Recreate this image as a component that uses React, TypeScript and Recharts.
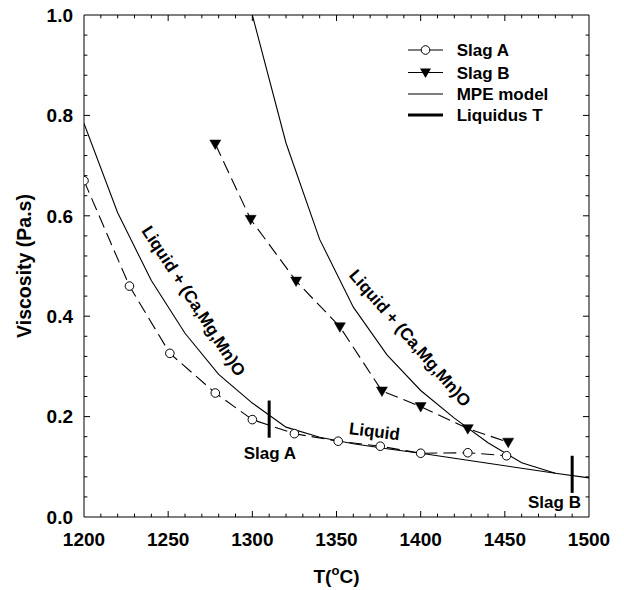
import React from 'react';
import {
  ComposedChart,
  Line,
  XAxis,
  YAxis,
  ReferenceLine,
  ReferenceDot,
  Legend,
} from 'recharts';

const FONT = '"Liberation Sans", Arial, Helvetica, sans-serif';

// ---- data ----
const slagA_T = [1200, 1227, 1251, 1278, 1300, 1325, 1351, 1376, 1400, 1428, 1451];
const slagA_V = [0.670, 0.460, 0.326, 0.247, 0.194, 0.166, 0.151, 0.141, 0.127, 0.128, 0.122];

const slagB_T = [1278, 1299, 1326, 1352, 1377, 1400, 1428, 1452];
const slagB_V = [0.743, 0.593, 0.470, 0.379, 0.251, 0.220, 0.176, 0.149];

const mpeA_T = [1200, 1220, 1240, 1260, 1280, 1300, 1320, 1340, 1360, 1380, 1400, 1420, 1440, 1460, 1480, 1500];
const mpeA_V = [0.784, 0.606, 0.471, 0.366, 0.284, 0.227, 0.179, 0.159, 0.146, 0.136, 0.127, 0.117, 0.107, 0.097, 0.087, 0.078];

const mpeB_T = [1300, 1320, 1340, 1360, 1380, 1400, 1420, 1440, 1460, 1480];
const mpeB_V = [1.0, 0.745, 0.553, 0.418, 0.323, 0.252, 0.197, 0.148, 0.108, 0.087];

const liqA_T = [1310, 1310];
const liqA_V = [0.158, 0.232];
const liqB_T = [1490, 1490];
const liqB_V = [0.048, 0.122];

const xMajorTicks = [1200, 1250, 1300, 1350, 1400, 1450, 1500];
const yMajorTicks = [0, 0.2, 0.4, 0.6, 0.8, 1.0];
const xMinorStep = 10;
const yMinorStep = 0.04;

const annotations = [
  { T: 1310.4, v: 0.127, text: 'Slag A', angle: 0 },
  { T: 1479.5, v: 0.028, text: 'Slag B', angle: 0 },
  { T: 1372.5, v: 0.170, text: 'Liquid', angle: 7 },
  { T: 1265, v: 0.430, text: 'Liquid + (Ca,Mg,Mn)O', angle: 57 },
  { T: 1393.6, v: 0.356, text: 'Liquid + (Ca,Mg,Mn)O', angle: 49 },
];

const toPts = (ts: number[], vs: number[]) => ts.map((T, i) => ({ T, v: vs[i] }));

const slagA = toPts(slagA_T, slagA_V);
const slagB = toPts(slagB_T, slagB_V);
const mpeA = toPts(mpeA_T, mpeA_V);
const mpeB = toPts(mpeB_T, mpeB_V);
const liqA = toPts(liqA_T, liqA_V);
const liqB = toPts(liqB_T, liqB_V);

const X0 = 1200, X1 = 1500, Y0 = 0, Y1 = 1;
// tick lengths in data units (approx 6px / 3.3px)
const xMajLen = 3.6, xMinLen = 2.0;
const yMajLen = 0.012, yMinLen = 0.0066;

const xMinorTicks: number[] = [];
for (let t = X0 + xMinorStep; t < X1; t += xMinorStep) xMinorTicks.push(t);
const yMinorTicks: number[] = [];
for (let k = 1; k * yMinorStep < Y1 - 1e-9; k++) yMinorTicks.push(+(k * yMinorStep).toFixed(4));

const isMajorX = (t: number) => xMajorTicks.includes(t);
const isMajorY = (v: number) => yMajorTicks.some((m) => Math.abs(m - v) < 1e-6);

const CircleDot = (p: any) => {
  if (p.cx == null || p.cy == null) return <g key={p.index} />;
  return <circle key={p.index} cx={p.cx} cy={p.cy} r={4.3} fill="#fff" stroke="#000" strokeWidth={1} />;
};
const TriDot = (p: any) => {
  if (p.cx == null || p.cy == null) return <g key={p.index} />;
  const { cx, cy } = p;
  return (
    <path
      key={p.index}
      d={`M${cx - 5.5},${cy - 4} L${cx + 5.5},${cy - 4} L${cx},${cy + 5.5} Z`}
      fill="#000"
      stroke="#000"
      strokeWidth={0.5}
    />
  );
};

const XTitle = (props: any) => {
  const vb = props.viewBox || {};
  const cx = vb.x + vb.width / 2;
  const y = vb.y + 65.5;
  return (
    <text x={cx} y={y} textAnchor="middle" fontFamily={FONT} fontWeight="bold" fontSize={19} fill="#000">
      T(
      <tspan dy={-7.5} fontSize={13}>o</tspan>
      <tspan dy={7.5}>C)</tspan>
    </text>
  );
};

const YTitle = (props: any) => {
  const vb = props.viewBox || {};
  const x = 31;
  const cy = vb.y + vb.height / 2;
  return (
    <text
      x={x}
      y={cy}
      textAnchor="middle"
      transform={`rotate(-90, ${x}, ${cy})`}
      fontFamily={FONT}
      fontWeight="bold"
      fontSize={19.5}
      fill="#000"
    >
      Viscosity (Pa.s)
    </text>
  );
};

const LegendBox = () => {
  const rowY = [12, 34.5, 56, 77];
  const lx0 = 2, lx1 = 37, tx = 50.7;
  const mid = (lx0 + lx1) / 2;
  const textProps = { fontFamily: FONT, fontWeight: 'bold' as const, fontSize: 17, fill: '#000' };
  return (
    <svg width={170} height={95} style={{ overflow: 'visible', display: 'block' }}>
      <line x1={lx0} y1={rowY[0]} x2={lx1} y2={rowY[0]} stroke="#000" strokeWidth={1.1} />
      <circle cx={mid} cy={rowY[0]} r={4.3} fill="#fff" stroke="#000" strokeWidth={1} />
      <text x={tx} y={rowY[0]} dy="0.36em" {...textProps}>Slag A</text>

      <line x1={lx0} y1={rowY[1]} x2={lx1} y2={rowY[1]} stroke="#000" strokeWidth={1.1} />
      <path d={`M${mid - 5.5},${rowY[1] - 4} L${mid + 5.5},${rowY[1] - 4} L${mid},${rowY[1] + 5.5} Z`} fill="#000" />
      <text x={tx} y={rowY[1]} dy="0.36em" {...textProps}>Slag B</text>

      <line x1={lx0} y1={rowY[2]} x2={lx1} y2={rowY[2]} stroke="#000" strokeWidth={1.1} />
      <text x={tx} y={rowY[2]} dy="0.36em" {...textProps}>MPE model</text>

      <line x1={lx0} y1={rowY[3]} x2={lx1} y2={rowY[3]} stroke="#000" strokeWidth={3} />
      <text x={tx} y={rowY[3]} dy="0.36em" {...textProps}>Liquidus T</text>
    </svg>
  );
};

const makeAnnLabel = (text: string, angle: number) => (p: any) => {
  const vb = p.viewBox || {};
  const cx = vb.x + (vb.width || 0) / 2;
  const cy = vb.y + (vb.height || 0) / 2;
  return (
    <text
      x={cx}
      y={cy}
      textAnchor="middle"
      dominantBaseline="central"
      transform={angle ? `rotate(${angle}, ${cx}, ${cy})` : undefined}
      fontFamily={FONT}
      fontWeight="bold"
      fontSize={17}
      fill="#000"
    >
      {text}
    </text>
  );
};

export default function App() {
  return (
    <div style={{ marginTop: -8, marginLeft: -8, width: 624, height: 590 }}>
      <ComposedChart
        width={624}
        height={590}
        margin={{ top: 15, right: 35, left: 8, bottom: 0 }}
        style={{ fontFamily: FONT }}
      >
        <XAxis
          dataKey="T"
          type="number"
          domain={[X0, X1]}
          ticks={xMajorTicks}
          interval={0}
          allowDataOverflow
          tickLine={false}
          tickSize={0}
          tickMargin={16}
          axisLine={{ stroke: '#000', strokeWidth: 1 }}
          tick={{ fill: '#000', fontSize: 19, fontWeight: 'bold', fontFamily: FONT }}
          height={73}
          label={{ content: XTitle }}
        />
        <YAxis
          type="number"
          domain={[Y0, Y1]}
          ticks={yMajorTicks}
          interval={0}
          allowDataOverflow
          tickFormatter={(v: number) => v.toFixed(1)}
          tickLine={false}
          tickSize={0}
          tickMargin={11}
          axisLine={{ stroke: '#000', strokeWidth: 1 }}
          tick={{ fill: '#000', fontSize: 19, fontWeight: 'bold', fontFamily: FONT }}
          width={76}
          label={{ content: YTitle }}
        />

        {/* frame: top and right */}
        <ReferenceLine y={Y1} stroke="#000" strokeWidth={1} />
        <ReferenceLine x={X1} stroke="#000" strokeWidth={1} />

        {/* inward ticks */}
        {xMinorTicks.map((t) => {
          const len = isMajorX(t) ? yMajLen : yMinLen;
          return (
            <ReferenceLine
              key={`xb${t}`}
              segment={[{ x: t, y: Y0 }, { x: t, y: Y0 + len }]}
              stroke="#000"
              strokeWidth={1}
            />
          );
        })}
        {xMinorTicks.map((t) => {
          const len = isMajorX(t) ? yMajLen : yMinLen;
          return (
            <ReferenceLine
              key={`xt${t}`}
              segment={[{ x: t, y: Y1 }, { x: t, y: Y1 - len }]}
              stroke="#000"
              strokeWidth={1}
            />
          );
        })}
        {yMinorTicks.map((v) => {
          const len = isMajorY(v) ? xMajLen : xMinLen;
          return (
            <ReferenceLine
              key={`yl${v}`}
              segment={[{ x: X0, y: v }, { x: X0 + len, y: v }]}
              stroke="#000"
              strokeWidth={1}
            />
          );
        })}
        {yMinorTicks.map((v) => {
          const len = isMajorY(v) ? xMajLen : xMinLen;
          return (
            <ReferenceLine
              key={`yr${v}`}
              segment={[{ x: X1, y: v }, { x: X1 - len, y: v }]}
              stroke="#000"
              strokeWidth={1}
            />
          );
        })}

        <Line data={mpeA} dataKey="v" type="linear" stroke="#000" strokeWidth={1.1} dot={false} isAnimationActive={false} />
        <Line data={mpeB} dataKey="v" type="linear" stroke="#000" strokeWidth={1.1} dot={false} isAnimationActive={false} />
        <Line
          data={slagA}
          dataKey="v"
          type="linear"
          stroke="#000"
          strokeWidth={1.1}
          strokeDasharray="13 6"
          dot={CircleDot}
          isAnimationActive={false}
        />
        <Line
          data={slagB}
          dataKey="v"
          type="linear"
          stroke="#000"
          strokeWidth={1.1}
          strokeDasharray="13 6"
          dot={TriDot}
          isAnimationActive={false}
        />
        <Line data={liqA} dataKey="v" type="linear" stroke="#000" strokeWidth={3} dot={false} isAnimationActive={false} />
        <Line data={liqB} dataKey="v" type="linear" stroke="#000" strokeWidth={3} dot={false} isAnimationActive={false} />

        {annotations.map((a, i) => (
          <ReferenceDot
            key={`ann${i}`}
            x={a.T}
            y={a.v}
            r={1}
            fill="none"
            stroke="none"
            ifOverflow="visible"
            label={makeAnnLabel(a.text, a.angle)}
          />
        ))}

        <Legend
          layout="horizontal"
          verticalAlign="middle"
          align="center"
          wrapperStyle={{ top: 38, left: 406, width: 170, height: 95 }}
          content={() => <LegendBox />}
        />
      </ComposedChart>
    </div>
  );
}
